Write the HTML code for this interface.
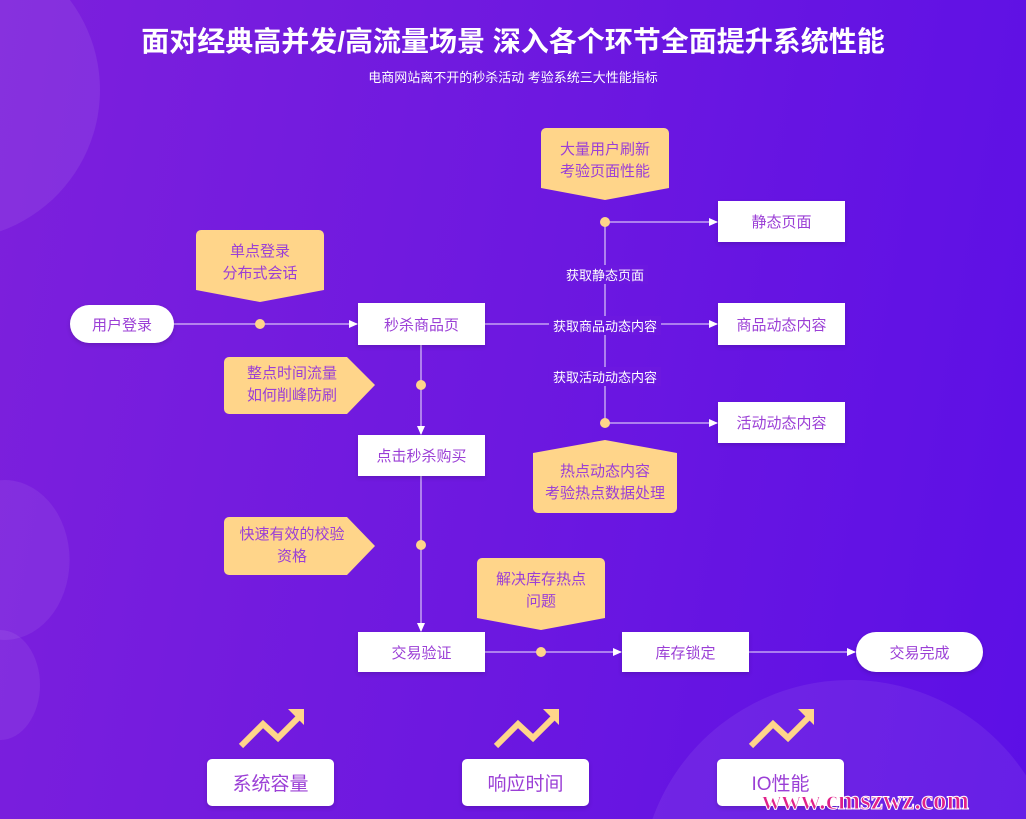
<!DOCTYPE html><html style="width:1026px;height:819px;overflow:hidden"><head><meta charset="utf-8"><style>
*{margin:0;padding:0;box-sizing:border-box}
body{width:1026px;height:819px;overflow:hidden;position:relative;font-family:"Liberation Sans","Noto Sans CJK SC",sans-serif;background:linear-gradient(100deg,#7d20dc 0%,#6d18e0 50%,#5c0fe6 100%)}
.b{position:absolute;background:#fff;color:#9b3fd6;font-size:15px;display:flex;align-items:center;justify-content:center;box-shadow:0 2px 4px rgba(0,0,0,.15)}
.p{border-radius:21px}
.bb{border-radius:5px;font-size:19px}
svg{position:absolute;left:0;top:0;display:block}
.t{position:absolute;color:#fff;text-align:center;width:1026px}
.y{position:absolute;color:#9b3fd6;font-size:15px;text-align:center;line-height:22px;display:flex;align-items:center;justify-content:center}
.lb{position:absolute;color:#fff;font-size:13px;transform:translateX(-50%);background:#6c18e0;padding:0 4px}
</style></head><body>
<svg width="1026" height="819">
<g fill="rgba(255,255,255,0.07)">
<path d="M0,231.4A150,150 0 0 0 70,0L0,0Z" fill="rgba(255,255,255,0.08)"/>
<path d="M0,480.2A65,80 0 1 1 0,639.8Z"/>
<path d="M0,630A40,55 0 0 1 0,740Z"/>
<path d="M652.4,819A210,210 0 0 1 1026,775.4L1026,819Z"/>
</g>
</svg>
<div class="t" style="top:20px;font-size:28px;font-weight:bold">面对经典高并发/高流量场景 深入各个环节全面提升系统性能</div>
<div class="t" style="top:67px;font-size:13px">电商网站离不开的秒杀活动 考验系统三大性能指标</div>
<svg width="1026" height="819">
<defs><marker id="a" markerUnits="userSpaceOnUse" markerWidth="9" markerHeight="9" refX="8" refY="4.5" orient="auto"><path d="M0,0.5L9,4.5L0,8.5z" fill="#fff"/></marker></defs>
<g stroke="rgba(255,255,255,0.6)" stroke-width="1.5" fill="none">
<line x1="174" y1="324" x2="357" y2="324" marker-end="url(#a)"/>
<line x1="485" y1="324" x2="717" y2="324" marker-end="url(#a)"/>
<line x1="605" y1="222" x2="605" y2="423"/>
<line x1="605" y1="222" x2="717" y2="222" marker-end="url(#a)"/>
<line x1="605" y1="423" x2="717" y2="423" marker-end="url(#a)"/>
<line x1="421" y1="345" x2="421" y2="434" marker-end="url(#a)"/>
<line x1="421" y1="476" x2="421" y2="631" marker-end="url(#a)"/>
<line x1="485" y1="652" x2="621" y2="652" marker-end="url(#a)"/>
<line x1="749" y1="652" x2="855" y2="652" marker-end="url(#a)"/>
</g>
<g fill="#ffd58a">
<circle cx="260" cy="324" r="5"/><circle cx="605" cy="222" r="5"/><circle cx="605" cy="423" r="5"/>
<circle cx="421" cy="385" r="5"/><circle cx="421" cy="545" r="5"/><circle cx="541" cy="652" r="5"/>
<path d="M546,128h118a5,5 0 0 1 5,5v55l-64,12l-64,-12v-55a5,5 0 0 1 5,-5z"/>
<path d="M201,230h118a5,5 0 0 1 5,5v55l-64,12l-64,-12v-55a5,5 0 0 1 5,-5z"/>
<path d="M482,558h118a5,5 0 0 1 5,5v55l-64,12l-64,-12v-55a5,5 0 0 1 5,-5z"/>
<path d="M229,357h118l28,28l-28,29h-118a5,5 0 0 1 -5,-5v-47a5,5 0 0 1 5,-5z"/>
<path d="M229,517h118l28,29l-28,29h-118a5,5 0 0 1 -5,-5v-48a5,5 0 0 1 5,-5z"/>
<path d="M533,453l72,-13l72,13v55a5,5 0 0 1 -5,5h-134a5,5 0 0 1 -5,-5z"/>
</g>
<g stroke="#ffd58a" stroke-width="6" fill="none">
<polyline points="241,746 263,724 278,738 300,716"/>
<polyline points="496,746 518,724 533,738 555,716"/>
<polyline points="751,746 773,724 788,738 810,716"/>
</g>
<g fill="#ffd58a">
<path d="M288,709h16v16z"/><path d="M543,709h16v16z"/><path d="M798,709h16v16z"/>
</g>
</svg>
<div class="y" style="left:541px;top:136px;width:128px;height:50px">大量用户刷新<br>考验页面性能</div>
<div class="y" style="left:196px;top:238px;width:128px;height:50px">单点登录<br>分布式会话</div>
<div class="y" style="left:477px;top:566px;width:128px;height:50px">解决库存热点<br>问题</div>
<div class="y" style="left:224px;top:360px;width:136px;height:50px">整点时间流量<br>如何削峰防刷</div>
<div class="y" style="left:224px;top:521px;width:136px;height:50px">快速有效的校验<br>资格</div>
<div class="y" style="left:533px;top:458px;width:144px;height:50px">热点动态内容<br>考验热点数据处理</div>
<div class="lb" style="left:605px;top:265px">获取静态页面</div>
<div class="lb" style="left:605px;top:316px">获取商品动态内容</div>
<div class="lb" style="left:605px;top:367px">获取活动动态内容</div>
<div class="b p" style="left:70px;top:305px;width:104px;height:38px">用户登录</div>
<div class="b" style="left:358px;top:303px;width:127px;height:42px">秒杀商品页</div>
<div class="b" style="left:718px;top:201px;width:127px;height:41px">静态页面</div>
<div class="b" style="left:718px;top:303px;width:127px;height:42px">商品动态内容</div>
<div class="b" style="left:718px;top:402px;width:127px;height:41px">活动动态内容</div>
<div class="b" style="left:358px;top:435px;width:127px;height:41px">点击秒杀购买</div>
<div class="b" style="left:358px;top:632px;width:127px;height:40px">交易验证</div>
<div class="b" style="left:622px;top:632px;width:127px;height:40px">库存锁定</div>
<div class="b p" style="left:856px;top:632px;width:127px;height:40px">交易完成</div>
<div class="b bb" style="left:207px;top:759px;width:127px;height:47px">系统容量</div>
<div class="b bb" style="left:462px;top:759px;width:127px;height:47px">响应时间</div>
<div class="b bb" style="left:717px;top:759px;width:127px;height:47px">IO性能</div>
<div style="position:absolute;left:762px;top:786px;height:28px;line-height:28px;font-size:27px;font-weight:bold;color:#e0208a;font-family:'Liberation Serif',serif;-webkit-text-stroke:1px #fff">www.cmszwz.com</div>
</body></html>
